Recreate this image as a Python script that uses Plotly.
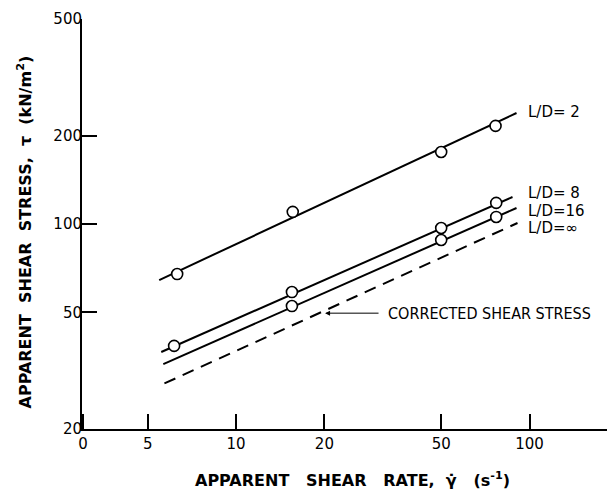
import numpy as np
import plotly.graph_objects as go

# Measured points (apparent shear rate in 1/s, apparent shear stress in kN/m^2)
ld2_rate = [6.3, 15.6, 50, 76.6]
ld2_stress = [67.5, 110, 176, 216]
ld8_rate = [6.15, 15.5, 50, 77]
ld8_stress = [38.4, 58.6, 96.9, 118]
ld16_rate = [15.5, 50, 77]
ld16_stress = [52.5, 88.2, 105.7]

# Fitted line end points
ld2_fit_rate = [5.47, 90.3]
ld2_fit_stress = [64.4, 239]
ld8_fit_rate = [5.56, 87.5]
ld8_fit_stress = [36.6, 123.6]
ld16_fit_rate = [5.65, 90.3]
ld16_fit_stress = [33.3, 113.4]
corr_fit_rate = [5.7, 91]
corr_fit_stress = [28.6, 100.8]

# Axis ticks
x_tickvals = [3.01, 5, 10, 20, 50, 100]
x_ticktext = ["0", "5", "10", "20", "50", "100"]
y_tickvals = [20, 50, 100, 200, 500]
y_ticktext = ["20", "50", "100", "200", "500"]

# Curve labels
curve_labels = ["L/D= 2", "L/D= 8", "L/D=16", "L/D=\u221e"]
label_stress = [241, 127.6, 110.7, 96.9]
label_rate = 96.9

FONT = "DejaVu Sans"
INK = "black"
NB = "\u00a0"

fig = go.Figure()

for xs, ys in [(ld2_fit_rate, ld2_fit_stress), (ld8_fit_rate, ld8_fit_stress),
               (ld16_fit_rate, ld16_fit_stress)]:
    fig.add_trace(go.Scatter(x=xs, y=ys, mode="lines",
                             line=dict(color=INK, width=2), hoverinfo="skip"))

fig.add_trace(go.Scatter(x=corr_fit_rate, y=corr_fit_stress, mode="lines",
                         line=dict(color=INK, width=2, dash="12px,8px"),
                         hoverinfo="skip"))

for xs, ys in [(ld2_rate, ld2_stress), (ld8_rate, ld8_stress),
               (ld16_rate, ld16_stress)]:
    fig.add_trace(go.Scatter(x=xs, y=ys, mode="markers",
                             marker=dict(symbol="circle", size=11, color="white",
                                         line=dict(color=INK, width=1.6))))

annotations = []
for txt, yv in zip(curve_labels, label_stress):
    annotations.append(dict(x=np.log10(label_rate), y=np.log10(yv), xref="x", yref="y",
                            text=txt, showarrow=False, xanchor="left", yanchor="middle",
                            font=dict(family=FONT, size=15, color=INK)))

# Arrow pointing at the corrected curve, with its label
annotations.append(dict(x=np.log10(20.1), y=1.696, xref="x", yref="y", text="",
                        showarrow=True, ax=55, ay=0, arrowhead=2, arrowsize=1,
                        arrowwidth=1, arrowcolor=INK))
annotations.append(dict(x=1.510, y=1.696, xref="x", yref="y",
                        text="CORRECTED" + NB + "SHEAR" + NB + "STRESS", showarrow=False,
                        xanchor="left", yanchor="middle",
                        font=dict(family="DejaVu Sans Condensed", size=16, color=INK)))

# Axis titles
annotations.append(dict(x=0.516, y=-0.122, xref="paper", yref="paper",
                        text=("APPARENT" + NB * 3 + "SHEAR" + NB * 3 + "RATE," + NB * 2
                              + "\u03b3\u0307" + NB * 3 + "(s<sup>-1</sup>)"),
                        showarrow=False, xanchor="center", yanchor="middle",
                        font=dict(family=FONT, size=16, color=INK, weight="bold")))
annotations.append(dict(x=-0.110, y=0.480, xref="paper", yref="paper", textangle=-90,
                        text=("APPARENT" + NB * 2 + "SHEAR" + NB * 2 + "STRESS," + NB * 2
                              + "\u03c4" + NB * 2 + "(kN/m<sup>2</sup>)"),
                        showarrow=False, xanchor="center", yanchor="middle",
                        font=dict(family=FONT, size=16, color=INK, weight="bold")))

fig.update_layout(
    width=607, height=490,
    margin=dict(l=82, r=0, t=19, b=61),
    paper_bgcolor="white", plot_bgcolor="white",
    showlegend=False,
    annotations=annotations,
    font=dict(family=FONT, size=15, color=INK),
)

fig.update_xaxes(type="log", range=[0.475, 2.264], tickvals=x_tickvals, ticktext=x_ticktext,
                 ticks="inside", ticklen=15, tickwidth=1.5, tickcolor=INK,
                 showline=True, linecolor=INK, linewidth=2, showgrid=False,
                 zeroline=False, tickfont=dict(family=FONT, size=15, color=INK))
fig.update_yaxes(type="log", range=[np.log10(20), np.log10(500)], tickvals=y_tickvals,
                 ticktext=y_ticktext, ticks="inside", ticklen=15, tickwidth=1.5,
                 tickcolor=INK, showline=True, linecolor=INK, linewidth=2,
                 showgrid=False, zeroline=False, ticklabelstandoff=-5,
                 tickfont=dict(family=FONT, size=15, color=INK))

fig.write_html("out.html")
